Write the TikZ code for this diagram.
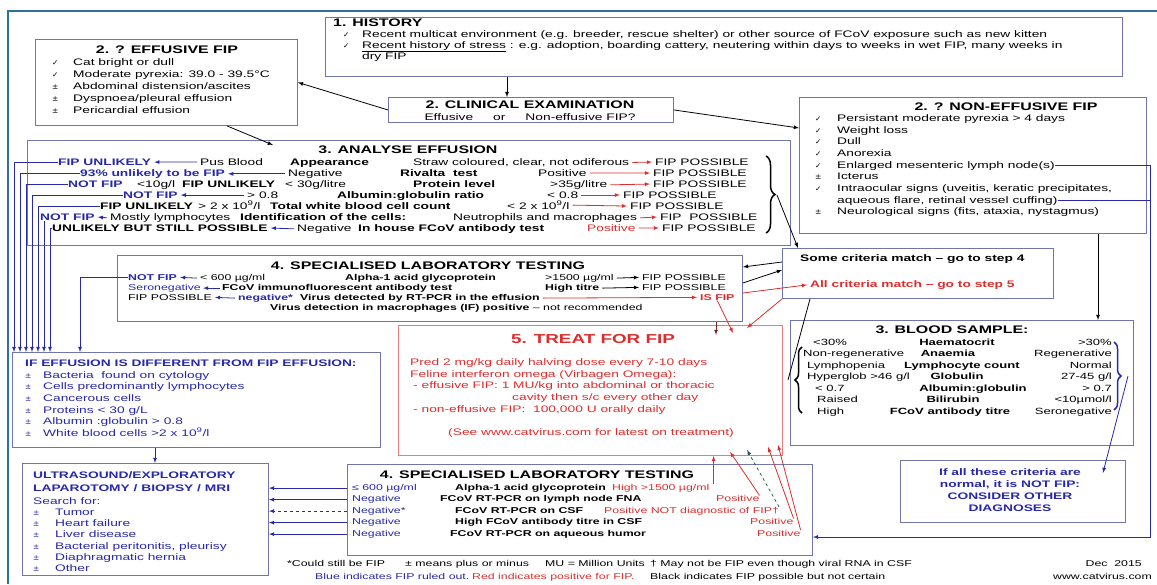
\documentclass[tikz,border=0pt]{standalone}
\usepackage{fontspec}
\setmainfont{Liberation Sans}[FakeStretch=1.45]
\newfontfamily\symfont{DejaVu Sans}
\usetikzlibrary{positioning,calc,decorations.pathreplacing}

\definecolor{fipblue}{RGB}{40,40,170}
\definecolor{fipred}{RGB}{222,45,45}
\definecolor{boxline}{RGB}{112,118,172}
\definecolor{frameline}{RGB}{45,115,155}
\definecolor{treatline}{RGB}{228,125,125}
\definecolor{darkred}{RGB}{120,40,40}
\definecolor{darkteal}{RGB}{40,90,80}

\tikzset{
  panel/.style={draw=boxline, line width=0.9pt, fill=white, anchor=north west, inner sep=0pt},
  txt/.style={anchor=base west, inner sep=0pt, yshift=-3.3pt, font=\fontsize{9.5}{11}\selectfont},
  txtb/.style={txt, font=\fontsize{9.5}{11}\selectfont\bfseries},
  txtc/.style={txt, anchor=base},
  txtbc/.style={txtb, anchor=base},
  sm/.style={txt, font=\fontsize{8.5}{10}\selectfont},
  smb/.style={txt, font=\fontsize{8.5}{10}\selectfont\bfseries},
  bsm/.style={txt, font=\fontsize{9}{11}\selectfont},
  bsmb/.style={txt, anchor=base, font=\fontsize{9}{11}\selectfont\bfseries},
  head/.style={anchor=base, inner sep=0pt, yshift=-3.8pt, font=\fontsize{11}{13}\selectfont\bfseries},
  tick/.style={anchor=base west, inner sep=0pt, yshift=-3.3pt, font=\symfont\fontsize{7.5}{9}\selectfont},
  conn/.style={->, line width=0.8pt},
  bconn/.style={->, draw=fipblue, line width=0.8pt},
  rconn/.style={->, draw=fipred, line width=0.8pt},
  bline/.style={draw=fipblue, line width=0.8pt},
  curly/.style={decorate, decoration={brace, amplitude=#1}, line width=1.5pt},
}

\begin{document}
\begin{tikzpicture}[x=1pt,y=-1pt,>=latex]
  \useasboundingbox (0,0) rectangle (1157,584);

  % outer frame
  \draw[frameline, line width=1.3pt] (8,584) -- (8,11) -- (1157,11);

  % the boxes
  \node[panel, minimum width=797pt, minimum height=59pt] (history) at (325,17) {};
  \node[panel, minimum width=262pt, minimum height=86pt] (eff) at (35,39) {};
  \node[panel, minimum width=285pt, minimum height=25pt] (clin) at (388,97) {};
  \node[panel, minimum width=347pt, minimum height=136pt] (noneff) at (799,97) {};
  \node[panel, minimum width=763pt, minimum height=105pt] (anal) at (27,140) {};
  \node[panel, minimum width=625pt, minimum height=66pt] (lab1) at (117,255) {};
  \node[panel, minimum width=271pt, minimum height=50pt] (crit) at (782,248) {};
  \node[panel, draw=treatline, minimum width=384pt, minimum height=130pt] (treat) at (398,325) {};
  \node[panel, minimum width=343pt, minimum height=125pt] (blood) at (790,320) {};
  \node[panel, minimum width=368pt, minimum height=95pt] (ifeff) at (12,352) {};
  \node[panel, minimum width=225pt, minimum height=62pt] (allnorm) at (900,460) {};
  \node[panel, minimum width=246pt, minimum height=112pt] (ultra) at (22,463) {};
  \node[panel, minimum width=465pt, minimum height=91pt] (lab2) at (347,464) {};

  % 1. history
  \node[head, anchor=base west] (histT) at (333,23) {1. HISTORY};
  \node[tick] (histS1) at (343,34) {✓};
  \node[txt] (hist1) at (362,34) {Recent multicat environment (e.g. breeder, rescue shelter) or other source of FCoV exposure such as new kitten};
  \node[tick] (histS2) at (343,45) {✓};
  \node[txt] (hist2) at (362,45) {\underline{Recent history of stress} : e.g. adoption, boarding cattery, neutering within days to weeks in wet FIP, many weeks in};
  \node[txt] (hist3) at (362,56) {dry FIP};

  % 2. effusive
  \node[head] (effT) at (167,50) {2. ? EFFUSIVE FIP};
  \foreach \s/\t [count=\i] in {✓/Cat bright or dull, ✓/Moderate pyrexia: 39.0 - 39.5\textdegree C,
      ±/Abdominal distension\slash ascites, ±/Dyspnoea\slash pleural effusion, ±/Pericardial effusion}
  {
    \node[tick] (effS\i) at (52,{50+12*\i}) {\s};
    \node[txt] (eff\i) at (73,{50+12*\i}) {\t};
  }

  % 2. clinical examination
  \node[head] (clinT) at (530,105) {2. CLINICAL EXAMINATION};
  \node[txtc] (clin1) at (530,117) {Effusive\hspace{20pt}or\hspace{20pt}Non-effusive FIP?};

  % 2. non-effusive
  \node[head] (neT) at (1006,107) {2. ? NON-EFFUSIVE FIP};
  \foreach \s/\t [count=\i from 0] in {✓/Persistant moderate pyrexia > 4 days, ✓/Weight loss, ✓/Dull, ✓/Anorexia,
      ✓/Enlarged mesenteric lymph node(s), ±/Icterus, ✓/{Intraocular signs (uveitis, keratic precipitates,},
      {}/{aqueous flare, retinal vessel cuffing)}, ±/{Neurological signs (fits, ataxia, nystagmus)}}
  {
    \node[tick] (neS\i) at (815,{118+11.7*\i}) {\s};
    \node[txt] (ne\i) at (837,{118+11.7*\i}) {\t};
  }

  % 3. analyse effusion
  \node[head] (analT) at (408,150) {3. ANALYSE EFFUSION};
  % appearance
  \node[txtb, text=fipblue] (a11) at (58,162) {FIP UNLIKELY};
  \node[txt] (a12) at (200,162) {Pus Blood};
  \node[txtb] (a13) at (290,162) {Appearance};
  \node[txt] (a14) at (413,162) {Straw coloured, clear, not odiferous};
  \node[txt] (a15) at (655,162) {FIP POSSIBLE};
  % rivalta
  \node[txtb, text=fipblue] (a21) at (80,173) {93\% unlikely to be FIP};
  \node[txt] (a22) at (288,173) {Negative};
  \node[txtb] (a23) at (400,173) {Rivalta\ \ test};
  \node[txt] (a24) at (538,173) {Positive};
  \node[txt] (a25) at (653,173) {FIP POSSIBLE};
  % protein
  \node[txtb, text=fipblue] (a31) at (68,184) {NOT FIP};
  \node[txt] (a32) at (137,184) {<10g/l};
  \node[txtb] (a33) at (182,184) {FIP UNLIKELY};
  \node[txt] (a34) at (285,184) {< 30g/litre};
  \node[txtb] (a35) at (413,184) {Protein level};
  \node[txt] (a36) at (550,184) {>35g/litre};
  \node[txt] (a37) at (653,184) {FIP POSSIBLE};
  % albumin : globulin
  \node[txtb, text=fipblue] (a41) at (123,195) {NOT FIP};
  \node[txt] (a42) at (247,195) {> 0.8};
  \node[txtb] (a43) at (337,195) {Albumin:globulin ratio};
  \node[txt] (a44) at (547,195) {< 0.8};
  \node[txt] (a45) at (623,195) {FIP POSSIBLE};
  % white cells
  \node[txtb] (a51) at (100,206) {FIP UNLIKELY};
  \node[txt] (a52) at (198,206) {> 2 x 10\textsuperscript{9}/l};
  \node[txtb] (a53) at (270,206) {Total white blood cell count};
  \node[txt] (a54) at (507,206) {< 2 x 10\textsuperscript{9}/l};
  \node[txt] (a55) at (630,206) {FIP POSSIBLE};
  % cells
  \node[txtb, text=fipblue] (a61) at (40,217) {NOT FIP};
  \node[txt] (a62) at (110,217) {Mostly lymphocytes};
  \node[txtb] (a63) at (240,217) {Identification of the cells:};
  \node[txt] (a64) at (453,217) {Neutrophils and macrophages};
  \node[txt] (a65) at (660,217) {FIP\ \ POSSIBLE};
  % antibody
  \node[txtb] (a71) at (52,228) {UNLIKELY BUT STILL POSSIBLE};
  \node[txt] (a72) at (297,228) {Negative};
  \node[txtb] (a73) at (358,228) {In house FCoV antibody test};
  \node[txt, text=fipred] (a74) at (587,228) {Positive};
  \node[txt] (a75) at (662,228) {FIP POSSIBLE};
  \draw[curly=9pt] (766,156) -- (766,233);
  \coordinate (aTip) at (777,195);

  % arrows inside the rows
  \foreach \l/\r in {a11/a12, a21/a22, a41/a42, a61/a62, a71/a72}
    \draw[bconn] ([xshift=-3pt]\r.west) -- ([xshift=3pt]\l.east);
  \foreach \l/\r in {a14/a15, a24/a25, a36/a37, a44/a45, a54/a55, a64/a65, a74/a75}
    \draw[rconn] ([xshift=3pt]\l.east) -- ([xshift=-3pt]\r.west);

  % 4. specialised laboratory testing (effusion)
  \node[head] (lab1T) at (428,266) {4. SPECIALISED LABORATORY TESTING};
  \node[smb, text=fipblue] (l1a) at (128,277) {NOT FIP};
  \node[sm] (l1b) at (200,277) {< 600 µg/ml};
  \node[smb] (l1c) at (345,277) {Alpha-1 acid glycoprotein};
  \node[sm] (l1d) at (545,277) {>1500 µg/ml};
  \node[sm] (l1e) at (642,277) {FIP POSSIBLE};
  \node[sm, text=fipblue] (l2a) at (128,287) {Seronegative};
  \node[smb] (l2b) at (222,287) {FCoV immunofluorescent antibody test};
  \node[smb] (l2c) at (545,287) {High titre};
  \node[sm] (l2d) at (642,287) {FIP POSSIBLE};
  \node[sm] (l3a) at (128,297) {FIP POSSIBLE};
  \node[smb, text=fipblue] (l3b) at (238,297) {negative*};
  \node[smb] (l3c) at (300,297) {Virus detected by RT-PCR in the effusion};
  \node[smb, text=fipred] (l3d) at (700,297) {IS FIP};
  \node[sm] (l4a) at (270,307) {\textbf{Virus detection in macrophages (IF) positive} – not recommended};
  \draw[bconn] ([xshift=-3pt]l1b.west) -- ([xshift=3pt]l1a.east);
  \draw[bconn] ([xshift=-2pt]l2b.west) -- ([xshift=2pt]l2a.east);
  \draw[bconn] ([xshift=-3pt]l3b.west) -- ([xshift=3pt]l3a.east);
  \draw[conn] ([xshift=3pt]l1d.east) -- ([xshift=-3pt]l1e.west);
  \draw[conn] ([xshift=3pt]l2c.east) -- ([xshift=-3pt]l2d.west);
  \draw[rconn] ([xshift=3pt]l3c.east) -- ([xshift=-3pt]l3d.west);

  % criteria
  \node[txtb] (crit1) at (800,258) {Some criteria match – go to step 4};
  \node[txtb, text=fipred] (crit2) at (810,284) {All criteria match – go to step 5};

  % 5. treat for FIP
  \node[head, text=fipred, font=\fontsize{13}{15}\selectfont\bfseries] (treatT) at (593,340) {5. TREAT FOR FIP};
  \node[txt, text=fipred] (tr1) at (410,362) {Pred 2 mg/kg daily halving dose every 7-10 days};
  \node[txt, text=fipred] (tr2) at (410,374) {Feline interferon omega (Virbagen Omega):};
  \node[txt, text=fipred] (tr3) at (413,385.5) {- effusive FIP: 1 MU/kg into abdominal or thoracic};
  \node[txt, text=fipred] (tr4) at (512,397) {cavity then s/c every other day};
  \node[txt, text=fipred] (tr5) at (413,409) {- non-effusive FIP:\ \ 100,000 U orally daily};
  \node[txtc, text=fipred] (tr6) at (591,432) {(See www.catvirus.com for latest on treatment)};

  % 3. blood sample
  \node[head] (bloodT) at (952,330) {3. BLOOD SAMPLE:};
  \foreach \l/\lx/\m/\mx/\r [count=\i] in {<30\%/813/Haematocrit/957/>30\%, Non-regenerative/803/Anaemia/948/Regenerative,
      Lymphopenia/807/Lymphocyte count/962/Normal, {Hyperglob >46 g\slash l}/807/Globulin/957/{27-45 g\slash l},
      < 0.7/815/Albumin:globulin/973/> 0.7, Raised/817/Bilirubin/953/{<10µmol\slash l}, High/817/FCoV antibody titre/950/Seronegative}
  {
    \node[bsm] (bl\i) at (\lx,{330.5+11.5*\i}) {\l};
    \node[bsmb] (bm\i) at (\mx,{330.5+11.5*\i}) {\m};
    \node[bsm, anchor=base east] (br\i) at (1112,{330.5+11.5*\i}) {\r};
  }
  \draw[curly=7pt] (802,413) -- (802,347);
  \draw[curly=7pt, fipblue] (1114,342) -- (1114,410);
  \coordinate (bTipL) at (788,380);
  \coordinate (bTipR) at (1128,376);

  % all normal
  \foreach \t [count=\i] in {If all these criteria are, {normal, it is NOT FIP:}, CONSIDER OTHER, DIAGNOSES}
    \node[txtbc, text=fipblue] (an\i) at (1010,{460+12*\i}) {\t};

  % if effusion is different
  \node[txtb, text=fipblue] (ifT) at (25,363) {IF EFFUSION IS DIFFERENT FROM FIP EFFUSION:};
  \foreach \t [count=\i] in {Bacteria\ \ found on cytology, Cells predominantly lymphocytes, Cancerous cells,
      Proteins < 30 g\slash L, Albumin :globulin > 0.8, White blood cells >2 x 10\textsuperscript{9}\slash l}
  {
    \node[tick, text=fipblue] (ifS\i) at (25,{363+11.7*\i}) {±};
    \node[txt, text=fipblue] (if\i) at (43,{363+11.7*\i}) {\t};
  }

  % ultrasound
  \node[txtb, text=fipblue] (us1) at (33,475) {ULTRASOUND/EXPLORATORY};
  \node[txtb, text=fipblue] (us2) at (33,488) {LAPAROTOMY / BIOPSY / MRI};
  \node[txt, text=fipblue] (us3) at (33,501) {Search for:};
  \foreach \t [count=\i] in {Tumor, Heart failure, Liver disease, {Bacterial peritonitis, pleurisy}, Diaphragmatic hernia, Other}
  {
    \node[tick, text=fipblue] (usS\i) at (33,{501+11.2*\i}) {±};
    \node[txt, text=fipblue] (usI\i) at (55,{501+11.2*\i}) {\t};
  }

  % 4. specialised laboratory testing (non-effusive)
  \node[head] (lab2T) at (537,475) {4. SPECIALISED LABORATORY TESTING};
  \node[sm, text=fipblue] (l2b1) at (352,487) {≤ 600 µg/ml};
  \node[smb] (l2m1) at (455,487) {Alpha-1 acid glycoprotein};
  \node[sm, text=fipred] (l2r1) at (612,487) {High >1500 µg/ml};
  \node[sm, text=fipblue] (l2b2) at (352,498.5) {Negative};
  \node[smb] (l2m2) at (440,498.5) {FCoV RT-PCR on lymph node FNA};
  \node[sm, text=fipred] (l2r2) at (716,498.5) {Positive};
  \node[sm, text=fipblue] (l2b3) at (352,510) {Negative*};
  \node[smb] (l2m3) at (455,510) {FCoV RT-PCR on CSF};
  \node[sm, text=fipred] (l2r3) at (604,510) {Positive NOT diagnostic of FIP†};
  \node[sm, text=fipblue] (l2b4) at (352,521.5) {Negative};
  \node[smb] (l2m4) at (455,521.5) {High FCoV antibody titre in CSF};
  \node[sm, text=fipred] (l2r4) at (750,521.5) {Positive};
  \node[sm, text=fipblue] (l2b5) at (352,533) {Negative};
  \node[smb] (l2m5) at (450,533) {FCoV RT-PCR on aqueous humor};
  \node[sm, text=fipred] (l2r5) at (757,533) {Positive};

  % footer
  \node[sm] (f1) at (287,563) {*Could still be FIP};
  \node[sm] (f2) at (405,563) {± means plus or minus};
  \node[sm] (f3) at (545,563) {MU = Million Units};
  \node[sm] (f4) at (650,563) {† May not be FIP even though viral RNA in CSF};
  \node[sm, anchor=base east] (f5) at (1142,563) {Dec\ \ 2015};
  \node[sm, text=fipblue] (f6) at (315,576) {Blue indicates FIP ruled out.};
  \node[sm, text=fipred] (f7) at (472,576) {Red indicates positive for FIP.};
  \node[sm] (f8) at (650,576) {Black indicates FIP possible but not certain};
  \node[sm, anchor=base east] (f9) at (1152,576) {www.catvirus.com};

  % connectors between the steps
  \coordinate (hx) at (507,0);
  \draw[conn] (history.south -| hx) -- (clin.north -| hx);
  \draw[conn] (clin.west) -- (eff.east);
  \draw[conn] (clin.east) -- ($(noneff.north west)+(0,31)$);
  \draw[conn] ($(eff.south west)+(192,0)$) -- ($(anal.north west)+(246,5)$);
  \draw[conn] (aTip) -- ($(crit.north west)+(16,0)$);
  \draw[conn] ($(crit.north west)+(0,14)$) -- ($(lab1.north east)+(0,12)$);
  \draw[conn] ($(lab1.north east)+(0,28)$) -- ($(crit.north west)+(0,22)$);
  \draw[rconn] ($(lab1.north east)+(0,38)$) -- ($(crit2.west)+(-3,0)$);
  % into the treatment box
  \coordinate (tx) at (716,0);
  \draw[->, darkred, line width=0.8pt] (lab1.south -| tx) -- ($(treat.north -| tx)+(0,10)$);
  \draw[rconn] (l3d.south) -- ($(treat.north west)+(335,8)$);
  \draw[rconn] (crit.south west) -- ($(treat.north west)+(349,3)$);
  \coordinate (nbx) at (1098,0);
  \draw[conn] (noneff.south -| nbx) -- (blood.north -| nbx);
  \draw[line width=0.8pt] (bTipL) -- ($(crit.south west)+(28,0)$);
  \draw[bconn] (bTipR) -- ($(allnorm.north east)+(-23,13)$);
  \coordinate (rv) at (1150,0);
  \coordinate (l2in) at (0,537);
  \draw[bline] (ne7.east) -- (ne7.east -| rv);
  \draw[bconn] (ne4.east) -| (rv |- l2in) -- (lab2.east |- l2in);

  % blue lines down to the other diagnoses
  \coordinate (v1) at (14,0);
  \coordinate (v2) at (20,0);
  \coordinate (v3) at (26,0);
  \coordinate (v4) at (32,0);
  \coordinate (v5) at (38,0);
  \coordinate (v6) at (44,0);
  \coordinate (v7) at (50,0);
  \coordinate (v8) at (80,0);
  \foreach \n/\v in {a11/v1, a21/v2, a31/v3, a41/v4, a51/v5, a71/v7, l1a/v8}
    \draw[bconn] (\n.west) -| (\v |- ifeff.north);
  \draw[bconn] (a61.south -| v6) -- (v6 |- ifeff.north);
  \coordinate (ux) at (155,0);
  \draw[bconn] (ifeff.south -| ux) -- (ultra.north -| ux);

  % second laboratory box to ultrasound and to treatment
  \foreach \i in {1,2,4,5}
    \draw[bconn] (lab2.west |- l2b\i) -- (ultra.east |- l2b\i);
  \draw[bconn, dashed] (lab2.west |- l2b3) -- (ultra.east |- l2b3);
  \draw[rconn] ([xshift=4pt]l2r1.north east) -- ([xshift=4pt]l2r1.north east |- treat.south);
  \draw[rconn] (l2r2.north east) -- ($(treat.south west)+(332,-4)$);
  \draw[->, darkteal, line width=0.8pt, dashed] (l2r3.north east) -- ($(treat.south west)+(349,-6)$);
  \draw[rconn] (l2r4.north east) -- ($(treat.south west)+(370,-9)$);
  \draw[rconn] (l2r5.north east) -- ($(treat.south west)+(380,-11)$);
\end{tikzpicture}
\end{document}
